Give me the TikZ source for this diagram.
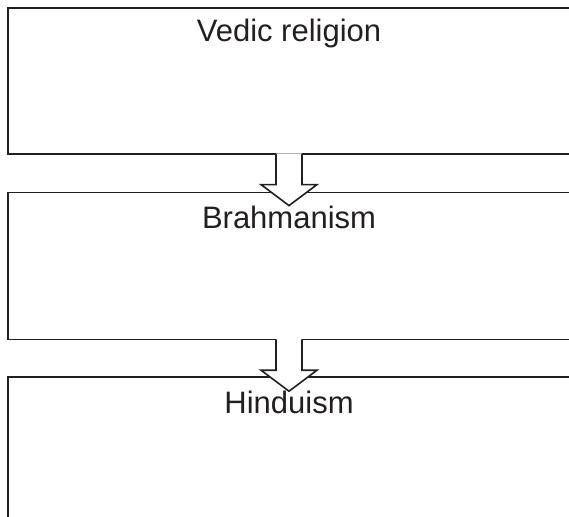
\documentclass[tikz,border=0pt]{standalone}
\usepackage{fontspec}
\setmainfont{Liberation Sans}
\usetikzlibrary{positioning, calc}

\definecolor{ink}{HTML}{231F20}

\tikzset{
  stage/.style={draw=ink, line width=1.6pt, anchor=north west,
    minimum width=620pt, inner sep=0pt},
  stagename/.style={font=\fontsize{31}{36}\selectfont, text=ink,
    inner sep=0pt, anchor=base},
  flow/.style={draw=ink, line width=1.6pt, line join=miter}
}

% hollow block arrow hanging from the bottom of box #1, named #2
\newcommand{\stageflow}[2]{%
  \coordinate (#2) at (#1.south -| vedic-t);
  \fill[white] ($(#2)+(-13,-1.2)$) -- ($(#2)+(-13,30)$) -- ($(#2)+(-28,30)$)
    -- ($(#2)+(0,51)$) -- ($(#2)+(28,30)$) -- ($(#2)+(13,30)$)
    -- ($(#2)+(13,-1.2)$) -- cycle;
  \draw[flow] ($(#2)+(-13,-0.8)$) -- ($(#2)+(-13,30)$) -- ($(#2)+(-28,30)$)
    -- ($(#2)+(0,51)$) -- ($(#2)+(28,30)$) -- ($(#2)+(13,30)$)
    -- ($(#2)+(13,-0.8)$);
}

\begin{document}
\begin{tikzpicture}[x=1pt, y=-1pt]
\useasboundingbox (0,0) rectangle (569,516);
\clip (0,0) rectangle (569,516);

\node[stage, minimum height=146pt] (vedic) at (7,7) {};
\node[stage, minimum height=147pt, below=37pt of vedic] (brahman) {};
\node[stage, minimum height=200pt, below=36pt of brahman] (hindu) {};

\node[stagename] (vedic-t) at (289,42) {Vedic religion};
\node[stagename] (brahman-t) at (289,228) {Brahmanism};
\node[stagename] (hindu-t) at (289,413) {Hinduism};

\stageflow{vedic}{flow1}
\stageflow{brahman}{flow2}

\end{tikzpicture}
\end{document}
